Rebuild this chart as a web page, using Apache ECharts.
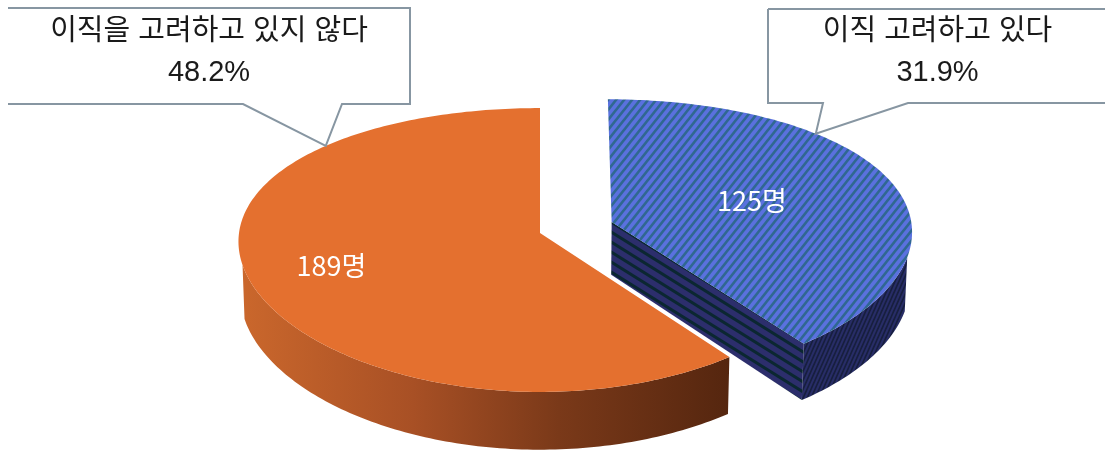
<!DOCTYPE html>
<html>
<head>
<meta charset="utf-8">
<script src="https://cdn.jsdelivr.net/npm/echarts@6/dist/echarts.min.js"></script>
<style>
  html, body { margin: 0; padding: 0; background: #ffffff; }
  #chart { width: 1105px; height: 459px; }
</style>
</head>
<body>
<div id="chart"></div>
<script>
// 이직 고려 여부 응답 분포 (3D 원그래프)
const categories = ['이직 고려하고 있다', '이직을 고려하고 있지 않다'];
const counts = [125, 189];
const shares = ['31.9%', '48.2%'];
const unit = '명';

// Camera for the tilted pie (screen pixels, pie radius = 1 in world units)
const VIEW = {
  cx: 540, cy: 233,
  focal: 2188, dist: 7.367,
  tilt: 28.1 * Math.PI / 180,
  thickness: 0.205,
  scaleX: 301,      // horizontal radius at the pie centre
  persX: 0.5        // horizontal share of the perspective effect
};
const cosT = Math.cos(VIEW.tilt), sinT = Math.sin(VIEW.tilt);
const CAMERA = [0, VIEW.dist * sinT, VIEW.dist * cosT];
const S0 = VIEW.focal / VIEW.dist;

function project(x, y, z) {
  const d = VIEW.dist - z * cosT - y * sinT;
  const s = VIEW.focal / d;
  const sx = VIEW.scaleX * (1 + VIEW.persX * (s / S0 - 1));
  return [VIEW.cx + x * sx, VIEW.cy - (y * cosT - z * sinT) * s];
}
const rad = a => a * Math.PI / 180;
// angle measured clockwise from the far side of the pie
const rim = (c, a, r, y) => [c[0] + r * Math.sin(rad(a)), y, c[1] - r * Math.cos(rad(a))];

// striped fills
function stripeTile(w, h, bg, fg, lineW, rising) {
  const c = document.createElement('canvas');
  c.width = w; c.height = h;
  const g = c.getContext('2d');
  g.fillStyle = bg;
  g.fillRect(0, 0, w, h);
  g.strokeStyle = fg;
  g.lineWidth = lineW;
  for (let t = -3; t <= 3; t++) {
    g.beginPath();
    if (rising) {
      g.moveTo(w * (t + 1), -h);
      g.lineTo(w * (t - 2), 2 * h);
    } else {
      g.moveTo(w * (t - 1), -h);
      g.lineTo(w * (t + 2), 2 * h);
    }
    g.stroke();
  }
  return { image: c, repeat: 'repeat' };
}

const orangeWall = new echarts.graphic.LinearGradient(0, 0, 1, 0, [
  { offset: 0, color: '#CA672C' },
  { offset: 0.35, color: '#A85025' },
  { offset: 0.65, color: '#7A3919' },
  { offset: 1, color: '#55260F' }
]);

const SLICE_STYLE = [
  {
    explode: 0.252, labelR: 0.5, leaderAt: 0.32,
    box: [768, 9, 1107, 103], tail: [823, 908], openLeft: false,
    top: stripeTile(8, 10, '#5A71DF', '#2F6891', 2.6, true),
    side: stripeTile(16, 10, '#2C2E6C', '#0B2731', 3, false),
    outer: stripeTile(4, 9, '#282D67', '#171F3E', 1.6, true)
  },
  {
    explode: 0, labelR: 0.72, leaderAt: 0.78,
    box: [8, 8, 410, 104], tail: [243, 342], openLeft: true,
    top: '#E4702F',
    side: '#B35624',
    outer: orangeWall
  }
];
const BOX_FONT = '29px "Liberation Sans", "Noto Sans CJK KR", sans-serif';
const LABEL_FONT = '27px "Noto Sans CJK KR", "Noto Sans", sans-serif';

const total = counts.reduce((a, b) => a + b, 0);
const starts = [];
counts.reduce((acc, v, i) => { starts[i] = acc; return acc + v; }, 0);

function sliceCenter(i) {
  const a0 = starts[i] / total * 360;
  const a1 = (starts[i] + counts[i]) / total * 360;
  const mid = (a0 + a1) / 2;
  const e = SLICE_STYLE[i].explode;
  return { a0, a1, mid, c: [e * Math.sin(rad(mid)), -e * Math.cos(rad(mid))] };
}
// far slices are painted first
const order = counts.map((_, i) => i).sort((p, q) => sliceCenter(p).c[1] - sliceCenter(q).c[1]);

function facing(n, p) {
  const v = [CAMERA[0] - p[0], CAMERA[1] - p[1], CAMERA[2] - p[2]];
  const len = Math.hypot(v[0], v[1], v[2]);
  return (n[0] * v[0] + n[1] * v[1] + n[2] * v[2]) / len > 0.05;
}
const pts = arr => arr.map(p => project(p[0], p[1], p[2]));

function renderSlice(params) {
  const i = params.dataIndex;
  const st = SLICE_STYLE[i];
  const { a0, a1, mid, c } = sliceCenter(i);
  const h = VIEW.thickness;
  const base = order.indexOf(i) * 100;
  const children = [];

  // outer wall, only the part that faces the camera
  const vis = [];
  const steps = Math.ceil(a1 - a0);
  for (let k = 0; k <= steps; k++) {
    const a = a0 + (a1 - a0) * k / steps;
    const n = [Math.sin(rad(a)), 0, -Math.cos(rad(a))];
    if (facing(n, rim(c, a, 1, -h / 2))) vis.push(a);
  }
  if (vis.length > 1) {
    const topArc = vis.map(a => rim(c, a, 1, 0));
    const botArc = vis.slice().reverse().map(a => rim(c, a, 1, -h));
    children.push({
      type: 'polygon', z2: base + 1,
      shape: { points: pts(topArc.concat(botArc)) },
      style: { fill: st.outer, stroke: null }
    });
  }
  // radial faces
  [[a0, -1], [a1, 1]].forEach(([a, sgn]) => {
    const n = [sgn * Math.cos(rad(a)), 0, sgn * Math.sin(rad(a))];
    const ctr = [c[0], -h / 2, c[1]];
    if (!facing(n, ctr)) return;
    const quad = [[c[0], 0, c[1]], rim(c, a, 1, 0), rim(c, a, 1, -h), [c[0], -h, c[1]]];
    children.push({
      type: 'polygon', z2: base + 2,
      shape: { points: pts(quad) },
      style: { fill: st.side, stroke: null }
    });
  });
  // top face
  const top = [[c[0], 0, c[1]]];
  for (let k = 0; k <= steps; k++) top.push(rim(c, a0 + (a1 - a0) * k / steps, 1, 0));
  children.push({
    type: 'polygon', z2: base + 3,
    shape: { points: pts(top) },
    style: { fill: st.top, stroke: null }
  });
  // value label
  const lp = project(...rim(c, mid, st.labelR, 0));
  children.push({
    type: 'text', z2: base + 4,
    style: {
      text: counts[i] + unit, x: lp[0], y: lp[1],
      fill: '#ffffff', font: LABEL_FONT,
      align: 'center', verticalAlign: 'middle'
    }
  });
  // callout box with its pointer
  const tip = project(...rim(c, a0 + (a1 - a0) * st.leaderAt, 1, 0));
  const [x0, y0, x1, y1] = st.box;
  const [t0, t1] = st.tail;
  const outline = [[x1, y0], [x1, y1], [t1, y1], tip, [t0, y1], [x0, y1]];
  children.push({
    type: 'polygon', z2: 1000,
    shape: { points: [[x0, y0]].concat(outline) },
    style: { fill: '#ffffff', stroke: null }
  });
  children.push({
    type: 'polyline', z2: 1001,
    shape: { points: [[x0, y0]].concat(outline).concat(st.openLeft ? [] : [[x0, y0]]) },
    style: { fill: null, stroke: '#8796A2', lineWidth: 2 }
  });
  children.push({
    type: 'text', z2: 1002,
    style: {
      text: categories[i] + '\n' + shares[i],
      x: (x0 + x1) / 2, y: (y0 + y1) / 2 - 4,
      fill: '#1a1a1a', font: BOX_FONT,
      align: 'center', verticalAlign: 'middle', lineHeight: 41
    }
  });
  return { type: 'group', children };
}

const chart = echarts.init(document.getElementById('chart'), null, { renderer: 'canvas' });
chart.setOption({
  animation: false,
  backgroundColor: '#ffffff',
  series: [{
    type: 'custom',
    coordinateSystem: 'none',
    renderItem: renderSlice,
    data: counts.map((v, i) => ({ name: categories[i], value: v }))
  }]
});
</script>
</body>
</html>
